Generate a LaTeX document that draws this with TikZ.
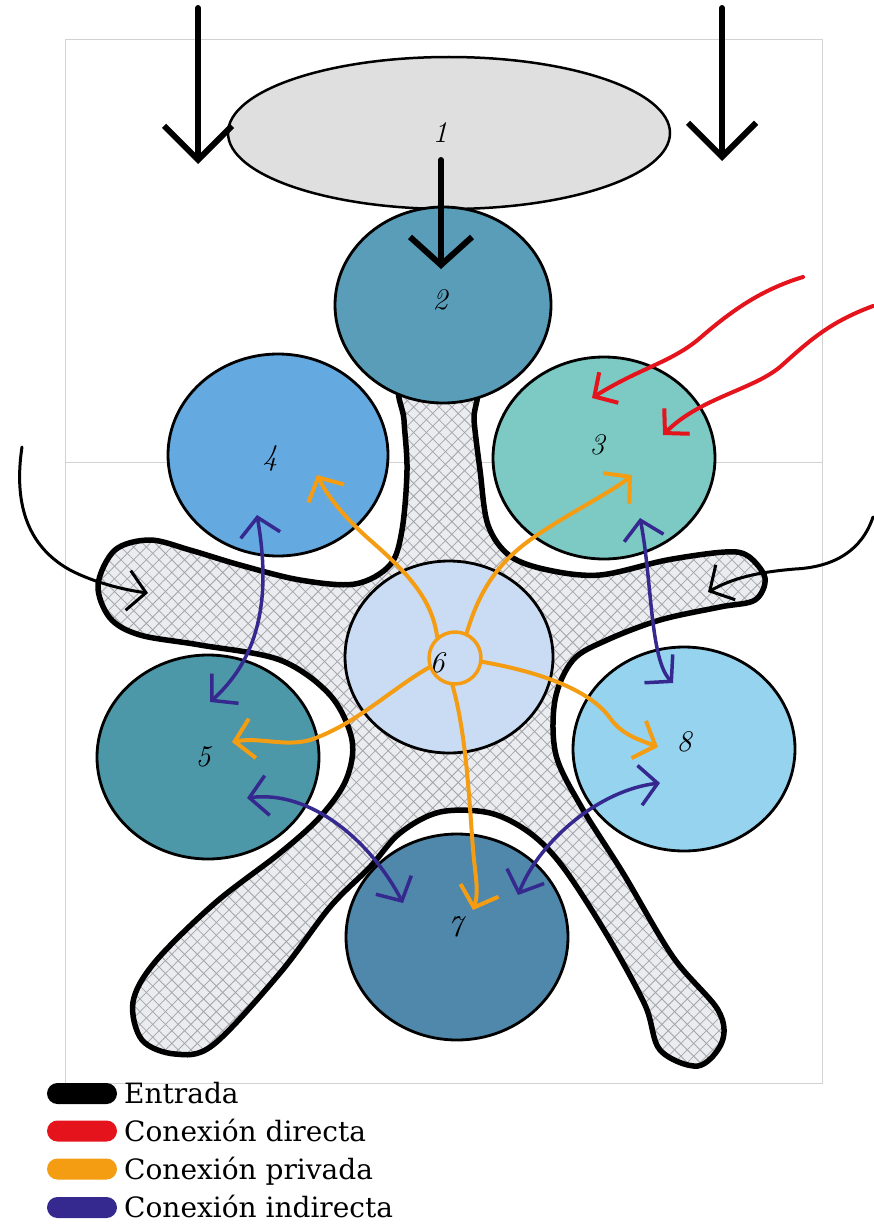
\documentclass[tikz,border=0pt]{standalone}
\usepackage{fontspec}
\newfontfamily\legendfont{DejaVu Serif}
\usetikzlibrary{arrows.meta,shapes.geometric,patterns.meta}
\definecolor{cA}{HTML}{DFDFDF}
\definecolor{c2}{HTML}{5A9DB8}
\definecolor{c3}{HTML}{7DC9C4}
\definecolor{c4}{HTML}{64AAE0}
\definecolor{c5}{HTML}{4C97A8}
\definecolor{c6}{HTML}{CADCF4}
\definecolor{c7}{HTML}{4F88AA}
\definecolor{c8}{HTML}{95D3EF}
\definecolor{blobfill}{HTML}{EAECEF}
\definecolor{hatch}{HTML}{A3A5AB}
\definecolor{cred}{HTML}{E5131B}
\definecolor{corange}{HTML}{F49C12}
\definecolor{cblue}{HTML}{35288F}
\definecolor{framec}{HTML}{D2D2D2}
\begin{document}
\begin{tikzpicture}[x=1pt,y=-1pt,line cap=round,line join=round,
  room/.style={ellipse,draw=black,line width=2.8pt,inner sep=0pt},
  num/.style={font=\fontsize{30}{30}\selectfont\itshape,inner sep=0pt},
  entry/.style={line width=6pt,-{Straight Barb[length=34pt,width=68pt]}},
  sidearrow/.style={line width=3pt,-{Straight Barb[length=18pt,width=40pt]}},
  direct/.style={cred,line width=4pt,-{Straight Barb[length=17pt,width=36pt]}},
  private/.style={corange,line width=4pt,-{Straight Barb[length=18pt,width=40pt]}},
  indirect/.style={cblue,line width=3.5pt,{Straight Barb[length=18pt,width=40pt]}-{Straight Barb[length=18pt,width=40pt]}},
  pill/.style={rounded corners=10.5pt,minimum width=70pt,minimum height=21pt,inner sep=0pt},
  legtext/.style={anchor=base west,inner sep=0pt,font=\legendfont\fontsize{28}{28}\selectfont}]
\useasboundingbox[fill=white] (0,0) rectangle (873,1228);
% faint frame
\draw[framec,line width=1pt] (65,40) rectangle (822,1083);
\draw[framec,line width=1pt] (65,462) -- (822,462);
% star-shaped hatched area
\path[preaction={fill=blobfill},
      preaction={pattern={Lines[angle=45,distance=9pt,line width=0.8pt]},pattern color=hatch},
      preaction={pattern={Lines[angle=-45,distance=9pt,line width=0.8pt]},pattern color=hatch},
      draw=black,line width=5.5pt]
  plot[smooth cycle,tension=0.55] coordinates {
  (403,385) (404,420) (407,470) (402,530) (390,565) (355,584) (300,580) (240,565)
  (190,550) (150,540) (115,550) (98,585) (110,618) (140,635) (200,645) (280,660)
  (330,695) (352,740) (346,780) (320,817) (280,853) (215,903) (155,962) (133,1002)
  (142,1040) (175,1054) (213,1045) (280,973) (330,907) (370,867) (400,833) (440,812)
  (490,813) (530,833) (563,867) (607,935) (645,1005) (660,1050) (698,1066) (722,1042)
  (718,1010) (673,957) (623,873) (582,808) (556,755) (555,700) (573,660) (607,640)
  (660,620) (720,607) (755,600) (765,578) (748,556) (725,552) (667,560) (600,575)
  (548,570) (510,556) (488,525) (480,470) (474,420) (473,385)};
% rooms
\node[room,fill=cA,line width=2.5pt,minimum width=442pt,minimum height=152pt] (n1) at (449,133) {};
\node[room,fill=c2,minimum width=216pt,minimum height=196pt] (n2) at (443,305) {};
\node[room,fill=c4,minimum width=220pt,minimum height=202pt] (n4) at (278,455) {};
\node[room,fill=c3,minimum width=222pt,minimum height=202pt] (n3) at (604,458) {};
\node[room,fill=c6,minimum width=208pt,minimum height=192pt] (n6) at (449,657) {};
\node[room,fill=c5,minimum width=222pt,minimum height=204pt] (n5) at (208,757) {};
\node[room,fill=c8,minimum width=222pt,minimum height=204pt] (n8) at (684,749) {};
\node[room,fill=c7,minimum width=222pt,minimum height=206pt] (n7) at (457,937) {};
% labels
\node[num] (l1) at (440,133) {1};
\node[num] (l2) at (440,300) {2};
\node[num] (l3) at (597,445) {3};
\node[num] (l4) at (270,458) {4};
\node[num] (l5) at (203,757) {5};
\node[num] (l6) at (437,663) {6};
\node[num] (l7) at (455,927) {7};
\node[num] (l8) at (684,742) {8};
% entrance arrows
\coordinate (eLa) at (198,8);   \coordinate (eLb) at (198,164);
\coordinate (eRa) at (722,8);   \coordinate (eRb) at (722,161);
\coordinate (eMa) at (441,160); \coordinate (eMb) at (441,269);
\draw[entry] (eLa) -- (eLb);
\draw[entry] (eRa) -- (eRb);
\draw[line width=6pt,-{Straight Barb[length=28pt,width=62pt]}] (eMa) -- (eMb);
% side entrances
\coordinate (sLa) at (22,447);  \coordinate (sLm) at (70,570);  \coordinate (sLb) at (148,593);
\coordinate (sRa) at (873,517); \coordinate (sRm) at (795,569); \coordinate (sRb) at (708,592);
\draw[sidearrow] (sLa) .. controls (14,500) and (25,545) .. (sLm) .. controls (95,583) and (125,590) .. (sLb);
\draw[sidearrow] (sRa) .. controls (862,550) and (835,567) .. (sRm) .. controls (760,572) and (735,577) .. (sRb);
% direct connections (red)
\coordinate (r1a) at (803,277); \coordinate (r1m) at (700,338); \coordinate (r1b) at (592,398);
\coordinate (r2a) at (873,306); \coordinate (r2m) at (780,367); \coordinate (r2b) at (663,435);
\draw[direct] (r1a) .. controls (760,290) and (730,312) .. (r1m) .. controls (672,362) and (640,368) .. (r1b);
\draw[direct] (r2a) .. controls (830,322) and (810,340) .. (r2m) .. controls (752,390) and (700,398) .. (r2b);
% indirect connections (blue)
\coordinate (b4) at (257,515);  \coordinate (b5a) at (210,702);
\coordinate (b3) at (640,518);  \coordinate (b8a) at (673,683);
\coordinate (b5b) at (247,798); \coordinate (b7a) at (403,903);
\coordinate (b8b) at (660,783); \coordinate (b7b) at (518,895);
\draw[indirect] (b4) .. controls (268,580) and (268,650) .. (b5a);
\draw[indirect] (b3) .. controls (652,580) and (650,660) .. (b8a);
\draw[indirect] (b5b) .. controls (310,790) and (370,840) .. (b7a);
\draw[indirect] (b8b) .. controls (600,790) and (540,840) .. (b7b);
% private connections (orange)
\node[circle,draw=corange,line width=3.5pt,minimum size=52pt,inner sep=0pt] (hub) at (455,658) {};
\coordinate (o4m) at (370,540); \coordinate (o4) at (317,475);
\coordinate (o3m) at (530,540); \coordinate (o3) at (632,475);
\coordinate (o8m) at (610,718); \coordinate (o8) at (658,747);
\coordinate (o7m) at (474,860); \coordinate (o7) at (473,910);
\coordinate (o5m) at (310,740); \coordinate (o5) at (232,742);
\draw[private] (hub.130) .. controls (432,600) and (410,575) .. (o4m) .. controls (345,518) and (328,497) .. (o4);
\draw[private] (hub.65) .. controls (478,595) and (495,565) .. (o3m) .. controls (565,515) and (612,492) .. (o3);
\draw[private] (hub.-8) .. controls (540,672) and (590,690) .. (o8m) .. controls (622,735) and (640,740) .. (o8);
\draw[private] (hub.-95) .. controls (468,740) and (470,820) .. (o7m) .. controls (477,885) and (478,895) .. (o7);
\draw[private] (hub.200) .. controls (390,690) and (355,725) .. (o5m) .. controls (285,747) and (260,737) .. (o5);
% legend
\node[pill,fill=black] (k1) at (82,1093.5) {};
\node[pill,fill=cred] (k2) at (82,1131) {};
\node[pill,fill=corange] (k3) at (82,1169) {};
\node[pill,fill=cblue] (k4) at (82,1207.5) {};
\node[legtext] (t1) at (124,1103) {Entrada};
\node[legtext] (t2) at (124,1141) {Conexión directa};
\node[legtext] (t3) at (124,1179) {Conexión privada};
\node[legtext] (t4) at (124,1217) {Conexión indirecta};
\end{tikzpicture}
\end{document}
